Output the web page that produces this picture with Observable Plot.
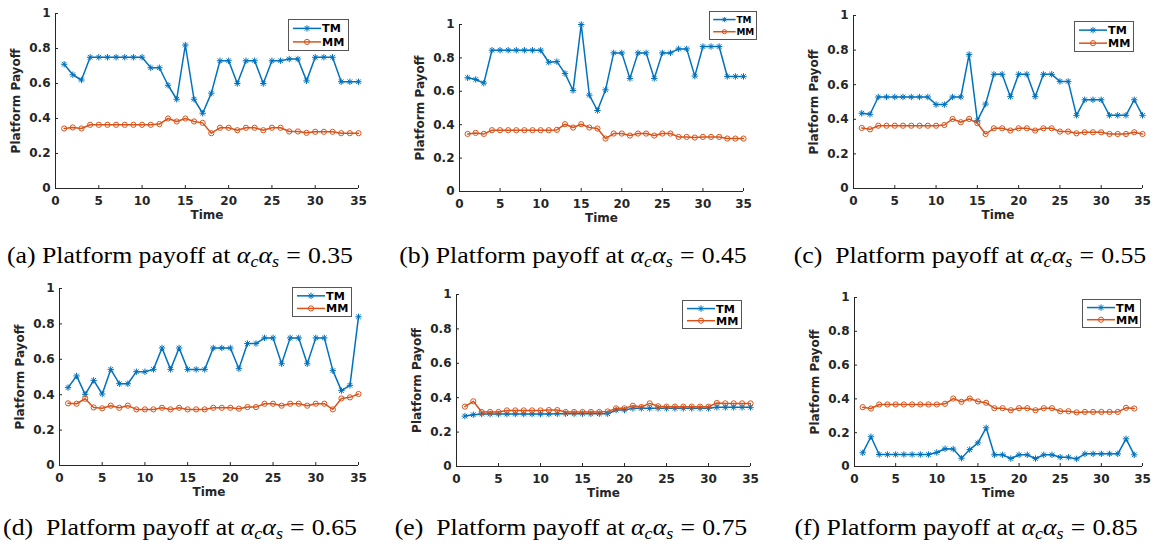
<!DOCTYPE html>
<html>
<head>
<meta charset="utf-8">
<script src="https://cdn.jsdelivr.net/npm/d3@7"></script>
<script src="https://cdn.jsdelivr.net/npm/@observablehq/plot@0.6"></script>
<style>
  body { margin: 0; background: #fff; }
  #fig { position: relative; width: 1161px; height: 548px; overflow: hidden; background: #fff; }
  .panel { position: absolute; }
  .legend { position: absolute; background: #fff; border: 1px solid #555; box-sizing: border-box; }
  .legend svg { overflow: visible; display: block; }
  .cap { position: absolute; font-family: "Liberation Serif", serif; font-size: 23px; line-height: 1;
         white-space: pre; color: #000; transform: translateX(-50%) scaleX(1.12); }
  .cap sub { font-size: 70%; vertical-align: -0.22em; line-height: 0; }
  .cap .eq { margin: 0 0.28em; }
</style>
</head>
<body>
<div id="fig"></div>
<script>
// Time steps
const time35 = [1,2,3,4,5,6,7,8,9,10,11,12,13,14,15,16,17,18,19,20,21,22,23,24,25,26,27,28,29,30,31,32,33,34,35];
const time34 = [1,2,3,4,5,6,7,8,9,10,11,12,13,14,15,16,17,18,19,20,21,22,23,24,25,26,27,28,29,30,31,32,33,34];

// Platform payoff, TM and MM, for each alpha_c * alpha_s
const tmA = [0.71,0.65,0.62,0.75,0.75,0.75,0.75,0.75,0.75,0.75,0.69,0.69,0.59,0.51,0.82,0.51,0.43,0.545,0.73,0.73,0.60,0.73,0.73,0.60,0.73,0.73,0.74,0.74,0.615,0.75,0.75,0.75,0.61,0.61,0.61];
const mmA = [0.343,0.349,0.343,0.364,0.364,0.364,0.364,0.364,0.364,0.364,0.364,0.368,0.40,0.383,0.40,0.383,0.375,0.316,0.347,0.347,0.333,0.347,0.347,0.333,0.347,0.347,0.326,0.326,0.318,0.324,0.324,0.324,0.316,0.316,0.316];

const tmB = [0.681,0.671,0.649,0.846,0.846,0.846,0.846,0.846,0.846,0.846,0.774,0.778,0.707,0.605,1.0,0.577,0.485,0.609,0.83,0.83,0.677,0.83,0.83,0.677,0.83,0.83,0.854,0.854,0.691,0.868,0.868,0.868,0.689,0.689,0.689];
const mmB = [0.345,0.351,0.345,0.367,0.367,0.367,0.367,0.367,0.367,0.367,0.367,0.369,0.403,0.383,0.403,0.383,0.377,0.317,0.347,0.347,0.335,0.347,0.347,0.335,0.347,0.347,0.327,0.327,0.323,0.327,0.327,0.327,0.317,0.317,0.317];

const tmC = [0.435,0.429,0.529,0.529,0.529,0.529,0.529,0.529,0.529,0.485,0.485,0.529,0.529,0.775,0.392,0.488,0.66,0.66,0.531,0.66,0.66,0.531,0.66,0.66,0.619,0.619,0.423,0.513,0.513,0.513,0.423,0.423,0.423,0.513,0.423];
const mmC = [0.35,0.342,0.363,0.363,0.363,0.363,0.363,0.363,0.363,0.363,0.367,0.402,0.383,0.402,0.377,0.315,0.348,0.348,0.335,0.348,0.348,0.335,0.348,0.348,0.329,0.329,0.319,0.325,0.325,0.325,0.315,0.315,0.315,0.325,0.315];

const tmD = [0.44,0.506,0.402,0.481,0.404,0.543,0.462,0.462,0.53,0.53,0.543,0.664,0.543,0.664,0.543,0.543,0.543,0.664,0.664,0.664,0.547,0.689,0.689,0.721,0.721,0.575,0.721,0.721,0.575,0.721,0.721,0.536,0.423,0.453,0.84];
const mmD = [0.351,0.349,0.377,0.328,0.323,0.338,0.326,0.338,0.317,0.317,0.317,0.326,0.317,0.326,0.317,0.317,0.317,0.326,0.326,0.326,0.321,0.33,0.33,0.349,0.349,0.338,0.349,0.349,0.338,0.349,0.349,0.317,0.379,0.385,0.404];

const tmE = [0.293,0.301,0.305,0.305,0.305,0.305,0.305,0.305,0.305,0.305,0.305,0.307,0.307,0.307,0.307,0.307,0.307,0.307,0.328,0.328,0.338,0.338,0.338,0.338,0.338,0.338,0.338,0.338,0.338,0.338,0.344,0.344,0.344,0.344,0.344];
const mmE = [0.348,0.379,0.317,0.317,0.317,0.326,0.326,0.326,0.326,0.326,0.328,0.328,0.317,0.317,0.317,0.317,0.317,0.32,0.338,0.338,0.353,0.346,0.367,0.35,0.348,0.348,0.348,0.348,0.348,0.348,0.369,0.367,0.367,0.367,0.367];

const tmF = [0.081,0.176,0.071,0.071,0.071,0.071,0.071,0.071,0.071,0.083,0.105,0.103,0.049,0.1,0.14,0.229,0.069,0.069,0.047,0.069,0.069,0.047,0.069,0.069,0.055,0.055,0.045,0.075,0.075,0.075,0.075,0.075,0.164,0.069];
const mmF = [0.351,0.343,0.367,0.367,0.367,0.367,0.367,0.367,0.367,0.367,0.371,0.402,0.383,0.402,0.385,0.377,0.345,0.345,0.333,0.345,0.345,0.333,0.345,0.345,0.327,0.327,0.32,0.323,0.323,0.323,0.323,0.323,0.347,0.343];

// Axis ticks and labels
const xTicks = [0,5,10,15,20,25,30,35];
const yTicks = [0,0.2,0.4,0.6,0.8,1];
const seriesNames = ["TM","MM"];
const seriesColors = ["#0072BD","#D95319"];
const captionTags = ["(a) ","(b) ","(c)  ","(d)  ","(e)  ","(f) "];
const alphaValues = ["0.35","0.45","0.55","0.65","0.75","0.85"];

// "*" marker: plus and cross combined
const asterisk = {
  draw(ctx, size) {
    const r = Math.sqrt(size / Math.PI), k = r * 0.72;
    ctx.moveTo(0, -r); ctx.lineTo(0, r);
    ctx.moveTo(-r, 0); ctx.lineTo(r, 0);
    ctx.moveTo(-k, -k); ctx.lineTo(k, k);
    ctx.moveTo(-k, k); ctx.lineTo(k, -k);
  }
};

// Panel frames (plot area in page pixels) and legend boxes [left, top, width, height, scale]
const panels = [
  {time: time35, tm: tmA, mm: mmA, x0: 55,  x1: 358,  y0: 13,  y1: 188, lg: [288, 19, 61, 32, 1]},
  {time: time35, tm: tmB, mm: mmB, x0: 459, x1: 743,  y0: 24,  y1: 191, lg: [709, 11, 48, 29, 0.8]},
  {time: time35, tm: tmC, mm: mmC, x0: 853, x1: 1142, y0: 15,  y1: 188, lg: [1074, 21, 60, 31, 1]},
  {time: time35, tm: tmD, mm: mmD, x0: 59,  x1: 358,  y0: 288, y1: 465, lg: [292, 287, 60, 30, 1]},
  {time: time35, tm: tmE, mm: mmE, x0: 456, x1: 750,  y0: 294, y1: 466, lg: [682, 300, 60, 29, 1]},
  {time: time34, tm: tmF, mm: mmF, x0: 854, x1: 1142, y0: 297, y1: 466, lg: [1082, 299, 59, 29, 1]}
];
const captionCenters = [[180, 244], [573, 244], [970, 244], [180, 516], [571, 516], [966, 516]];

const fig = document.getElementById("fig");
const axisColor = "#262626";

panels.forEach((p, i) => {
  const mL = 55, mT = 20, mR = 19, mB = 45;
  const w = p.x1 - p.x0, h = p.y1 - p.y0;
  const tmRows = p.time.map((t, j) => ({t, v: p.tm[j]}));
  const mmRows = p.time.map((t, j) => ({t, v: p.mm[j]}));
  const chart = Plot.plot({
    width: w + mL + mR, height: h + mT + mB,
    marginLeft: mL, marginTop: mT, marginRight: mR, marginBottom: mB,
    style: {fontFamily: "DejaVu Sans", fontWeight: "bold", fontSize: "12px", color: axisColor, background: "transparent", overflow: "visible"},
    x: {domain: [0, 35]},
    y: {domain: [0, 1]},
    marks: [
      Plot.axisX(xTicks, {tickSize: -3, tickPadding: 11, tickFormat: d => String(d), stroke: axisColor,
        label: "Time", labelAnchor: "center", labelArrow: "none", labelOffset: 30}),
      Plot.axisY(yTicks, {tickSize: -3, tickPadding: 8, tickFormat: d => String(+d.toFixed(1)), stroke: axisColor,
        label: "Platform Payoff", labelAnchor: "center", labelArrow: "none", labelOffset: 44}),
      Plot.ruleX([0], {stroke: axisColor, strokeWidth: 1}),
      Plot.ruleY([0], {stroke: axisColor, strokeWidth: 1}),
      Plot.line(tmRows, {x: "t", y: "v", stroke: seriesColors[0], strokeWidth: 1.5}),
      Plot.dot(tmRows, {x: "t", y: "v", symbol: asterisk, r: 3.2, stroke: seriesColors[0], fill: "none", strokeWidth: 1}),
      Plot.line(mmRows, {x: "t", y: "v", stroke: seriesColors[1], strokeWidth: 1.5}),
      Plot.dot(mmRows, {x: "t", y: "v", r: 2.6, stroke: seriesColors[1], fill: "none", strokeWidth: 1})
    ]
  });
  chart.classList.add("panel");
  chart.style.left = (p.x0 - mL) + "px";
  chart.style.top = (p.y0 - mT) + "px";
  fig.appendChild(chart);

  // Legend box
  const [lx, ly, lw, lh, s] = p.lg;
  const lg = document.createElement("div");
  lg.className = "legend";
  Object.assign(lg.style, {left: lx + "px", top: ly + "px", width: lw + "px", height: lh + "px"});
  const svg = d3.create("svg").attr("width", lw - 2).attr("height", lh - 2);
  const symbols = [d3.symbol(asterisk, 3.2 * 3.2 * Math.PI * s * s)(), d3.symbol(d3.symbolCircle, 2.6 * 2.6 * Math.PI * s * s)()];
  seriesNames.forEach((name, k) => {
    const cy = (lh - 2) * (k === 0 ? 0.28 : 0.73);
    const x0 = 4 * s, x1 = 32 * s;
    const g = svg.append("g");
    g.append("line").attr("x1", x0).attr("x2", x1).attr("y1", cy).attr("y2", cy)
      .attr("stroke", seriesColors[k]).attr("stroke-width", 1.5);
    g.append("path").attr("d", symbols[k]).attr("transform", `translate(${(x0 + x1) / 2},${cy})`)
      .attr("stroke", seriesColors[k]).attr("fill", "none").attr("stroke-width", 1);
    g.append("text").attr("x", x1 + 1 * s).attr("y", cy).attr("dy", "0.36em")
      .attr("font-family", "DejaVu Sans").attr("font-weight", "bold").attr("font-size", 11.2 * s)
      .attr("fill", "#000").text(name);
  });
  lg.appendChild(svg.node());
  fig.appendChild(lg);

  // Caption
  const cap = document.createElement("div");
  cap.className = "cap";
  cap.style.left = captionCenters[i][0] + "px";
  cap.style.top = captionCenters[i][1] + "px";
  cap.innerHTML = `${captionTags[i]}Platform payoff at <i>α</i><sub><i>c</i></sub><i>α</i><sub><i>s</i></sub><span class="eq">=</span>${alphaValues[i]}`;
  fig.appendChild(cap);
});
</script>
</body>
</html>
